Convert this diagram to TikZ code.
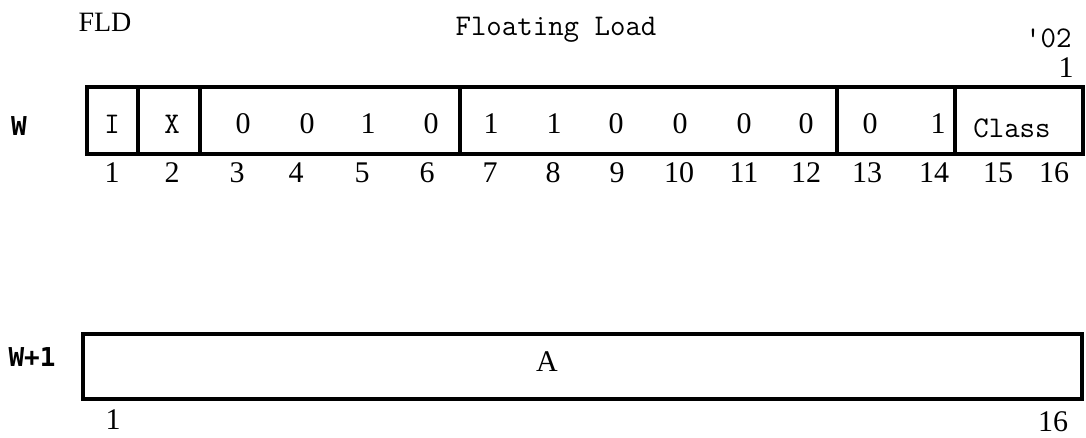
\documentclass[tikz,border=0pt]{standalone}
\usepackage{fontspec}
\setmainfont{Liberation Serif}
\newfontfamily\regfont{DejaVu Sans Mono}
\usetikzlibrary{positioning, math}
\tikzset{
  field/.style={line width=1.6pt},
  bit/.style={inner sep=0pt, font=\fontsize{15}{15}\selectfont},
  tt/.style={inner sep=0pt, font=\ttfamily\fontsize{15}{15}\selectfont},
  reg/.style={inner sep=0pt, font=\regfont\bfseries\fontsize{13}{13}\selectfont},
}

\begin{document}
\begin{tikzpicture}[x=0.5pt,y=-0.5pt]
\tikzmath{
\wtop=87;
\wbot=154;
\wwtop=334;
\wwbot=399;
}
\useasboundingbox (0,0) rectangle (1086,438);

%titles
\node[inner sep=0pt, font=\fontsize{14}{14}\selectfont] (fld) at (105,22) {FLD};
\node[tt] (title) at (556,30) {Floating Load};
\node[tt, anchor=east] (code) at (1072,38) {'02};
\node[bit, anchor=east] (len) at (1074,68) {1};

%word W
\node[reg] (w) at (19,126) {W};
\draw[field] (87,\wtop) rectangle (1083,\wbot);
\foreach \x in {138,200,460,837,955}
  \draw[field] (\x,\wtop) -- (\x,\wbot);
\node[tt] (i) at (112,124) {I};
\node[tt] (xx) at (172,124) {X};
\foreach \x/\v in {243/0,307/0,368/1,431/0,491/1,554/1,616/0,680/0,744/0,806/0,870/0,938/1}
  \node[bit] (v\x) at (\x,124) {\v};
\node[tt] (class) at (1012,128) {Class};
\foreach \n/\x in {1/112,2/172,3/237,4/296,5/362,6/427,7/490,8/553,9/617,10/679,11/744,12/806,13/867,14/934,15/998,16/1054}
  \node[bit] (b\n) at (\x,173) {\n};

%word W+1
\node[reg] (w1) at (32,357) {W+1};
\draw[field] (83,\wwtop) rectangle (1082,\wwbot);
\node[bit] (a) at (547,362) {A};
\node[bit] (a1) at (113,420) {1};
\node[bit] (a16) at (1053,422) {16};
\end{tikzpicture}
\end{document}
